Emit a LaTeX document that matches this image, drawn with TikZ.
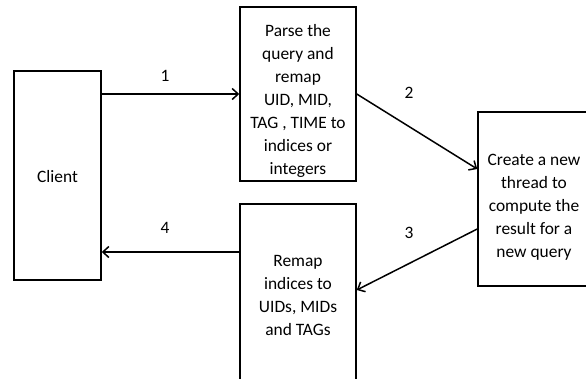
\documentclass[tikz,border=0pt]{standalone}
\usepackage{fontspec}
\setmainfont{Carlito}
\usetikzlibrary{arrows.meta}
\begin{document}
\begin{tikzpicture}[x=1pt,y=-1pt,
  box/.style={draw=black,line width=1.5pt,fill=white,inner sep=0pt},
  txt/.style={inner sep=0pt,align=center,font=\fontsize{17.4}{23}\selectfont},
  conn/.style={line width=1.5pt,-{Straight Barb[length=6pt,width=11pt,line width=1.5pt]}},
  lbl/.style={font=\fontsize{17.4}{23}\selectfont,inner sep=0pt}]
\useasboundingbox (0,0) rectangle (586,378);
\clip (0,0) rectangle (586,378);
\fill[white] (0,0) rectangle (586,378);
% boxes
\node[box,minimum width=87pt,minimum height=209pt] (client) at (57.5,175.5) {};
\node[box,minimum width=116pt,minimum height=174pt] (parse) at (298,94) {};
\node[box,minimum width=118pt,minimum height=174pt] (create) at (537,199) {};
\node[box,minimum width=116pt,minimum height=185pt] (remap) at (298,296.5) {};
% texts
\node[txt] (clienttext) at (57.5,177) {Client};
\node[txt] (parsetext) at (298,100.5)
  {Parse the\\query and\\remap\\UID, MID,\\TAG , TIME to\\indices or\\integers};
\node[txt] (createtext) at (534,207)
  {Create a new\\thread to\\compute the\\result for a\\new query};
\node[txt] (remaptext) at (298,295)
  {Remap\\indices to\\UIDs, MIDs\\and TAGs};
% connectors
\draw[conn] (client.east |- 0,94) -- (parse.west |- 0,94);
\draw[conn] (parse.east |- 0,94) -- (create.west |- 0,169);
\draw[conn] (create.west |- 0,229) -- (remap.east |- 0,290);
\draw[conn] (remap.west |- 0,252) -- (client.east |- 0,252);
\node[lbl] (l1) at (165,76) {1};
\node[lbl] (l2) at (409,93) {2};
\node[lbl] (l3) at (409,233) {3};
\node[lbl] (l4) at (165,228) {4};
\end{tikzpicture}
\end{document}
